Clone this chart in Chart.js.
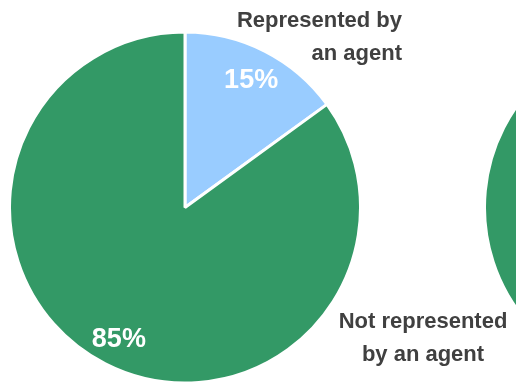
<!DOCTYPE html>
<html>
<head>
<meta charset="utf-8">
<script src="https://cdn.jsdelivr.net/npm/chart.js@4.4.1/dist/chart.umd.min.js"></script>
<style>
  html, body { margin: 0; padding: 0; width: 516px; height: 385px; overflow: hidden; background: #fff; }
  #wrap { position: relative; width: 516px; height: 385px; overflow: hidden; }
  #pie-main { position: absolute; left: 0; top: 0; z-index: 2; }
  #pie-next { position: absolute; left: 475px; top: 0; z-index: 1; }
</style>
</head>
<body>
<div id="wrap">
  <canvas id="pie-next" width="370" height="385"></canvas>
  <canvas id="pie-main" width="516" height="385"></canvas>
</div>
<script>
const categories = ['Represented by an agent', 'Not represented by an agent'];
const categoryLines = [['Represented by', 'an agent'], ['Not represented', 'by an agent']];
const shares = [15, 85];
// second pie is cut off at the right edge, only its green part shows
const nextShares = [15, 85];
const sliceColors = ['#99ccff', '#339966'];

const textFont = '"Liberation Sans", Arial, Helvetica, sans-serif';
// where the category captions sit (anchor x, first baseline, alignment)
const captionSpots = [
  { x: 402, y: 27, align: 'right' },
  { x: 423, y: 328, align: 'center' },
];

const sliceLabels = {
  id: 'sliceLabels',
  afterDatasetsDraw(chart, args, opts) {
    if (!opts.show) return;
    const ctx = chart.ctx;
    const meta = chart.getDatasetMeta(0);
    ctx.save();
    ctx.font = 'bold 27px ' + textFont;
    ctx.fillStyle = '#ffffff';
    ctx.textAlign = 'center';
    ctx.textBaseline = 'alphabetic';
    meta.data.forEach((arc, i) => {
      const p = arc.getProps(['x', 'y', 'startAngle', 'endAngle', 'outerRadius'], true);
      const mid = (p.startAngle + p.endAngle) / 2;
      const r = p.outerRadius * 0.83;
      ctx.fillText(shares[i] + '%', p.x + Math.cos(mid) * r, p.y + Math.sin(mid) * r + 10);
    });
    ctx.font = 'bold 22px ' + textFont;
    ctx.fillStyle = '#404040';
    categoryLines.forEach((lines, i) => {
      const s = captionSpots[i];
      ctx.textAlign = s.align;
      lines.forEach((t, j) => ctx.fillText(t, s.x, s.y + j * 33));
    });
    ctx.restore();
  },
};

function pieOptions(right, show) {
  return {
    responsive: false,
    animation: false,
    radius: 175.5,
    layout: { padding: { left: 0, right: right, top: 30, bottom: 0 } },
    plugins: {
      legend: { display: false },
      tooltip: { enabled: false },
      sliceLabels: { show: show },
    },
  };
}

new Chart(document.getElementById('pie-main').getContext('2d'), {
  type: 'pie',
  data: {
    labels: categories,
    datasets: [{ data: shares, backgroundColor: sliceColors, borderColor: '#ffffff', borderWidth: 3 }],
  },
  options: pieOptions(146, true),
  plugins: [sliceLabels],
});

new Chart(document.getElementById('pie-next').getContext('2d'), {
  type: 'pie',
  data: {
    labels: categories,
    datasets: [{ data: nextShares, backgroundColor: sliceColors, borderColor: '#ffffff', borderWidth: 3 }],
  },
  options: pieOptions(0, false),
  plugins: [sliceLabels],
});
</script>
</body>
</html>
